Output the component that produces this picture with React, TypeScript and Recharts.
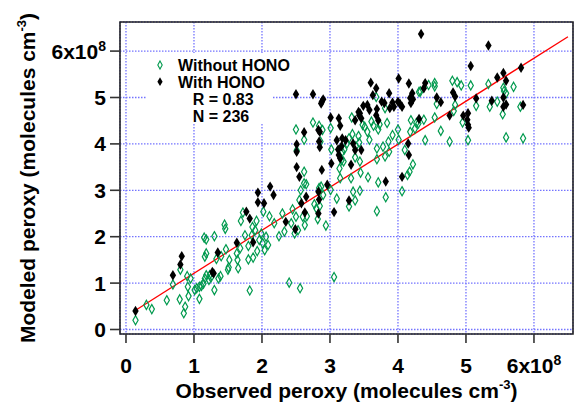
import { ScatterChart, Scatter, XAxis, YAxis, CartesianGrid, ReferenceLine, ReferenceArea, Legend } from 'recharts'

// axis ticks (units of 1e8 molecules cm^-3)
const xTicks = [0, 1, 2, 3, 4, 5, 6]
const yTicks = [0, 1, 2, 3, 4, 5, 6]
const X_DOMAIN = [-0.088, 6.574]
const Y_DOMAIN = [-0.097, 6.627]

const seriesNames = ['Without HONO', 'With HONO']
const stats = ['R = 0.83', 'N = 236']

// regression line end points
const fitLine = [
  [0.13, 0.405],
  [6.5, 6.31],
]

// green open diamonds
const withoutHono = [
  [0.14, 0.2], [0.3, 0.53], [0.38, 0.44], [0.6, 0.63], [0.69, 0.97], [0.8, 1.29], [0.79, 0.65], [0.85, 0.35],
  [0.87, 0.49], [0.9, 1.15], [0.91, 0.92], [0.95, 1.1], [0.92, 0.72], [1.01, 0.85], [1.04, 0.89], [1.08, 0.92],
  [1.11, 0.94], [1.14, 0.99], [1.16, 1.1], [1.08, 0.66], [1.18, 1.17], [1.16, 1.57], [1.18, 1.64], [1.15, 1.98],
  [1.18, 1.94], [1.22, 1.07], [1.23, 1.17], [1.25, 1.12], [1.3, 0.85], [1.3, 2.01], [1.33, 1.52], [1.36, 1.1],
  [1.39, 1.15], [1.4, 1.58], [1.45, 2.26], [1.46, 2.17], [1.47, 1.73], [1.5, 1.29], [1.51, 1.34], [1.52, 1.5],
  [1.63, 1.64], [1.64, 1.5], [1.65, 1.32], [1.68, 1.75], [1.69, 2.34], [1.72, 2.52], [1.75, 2.03], [1.8, 1.51],
  [1.82, 0.84], [1.8, 1.8], [1.85, 2.03], [1.86, 2.21], [1.87, 1.55], [1.9, 2.14], [1.92, 2.34], [1.93, 1.69],
  [1.96, 1.93], [1.99, 2.07], [2.01, 1.86], [2.02, 2.54], [2.04, 1.71], [2.06, 2.0], [2.09, 1.82], [2.11, 2.44],
  [2.18, 2.29], [2.25, 2.01], [2.3, 2.5], [2.33, 2.11], [2.4, 1.01], [2.43, 2.29], [2.45, 2.59], [2.48, 2.07],
  [2.5, 2.43], [2.53, 2.14], [2.55, 2.79], [2.56, 0.89], [2.57, 3.0], [2.6, 2.43], [2.63, 2.25], [2.65, 3.13],
  [2.66, 2.44], [2.77, 2.7], [2.8, 2.61], [2.85, 2.66], [2.82, 2.38], [2.9, 2.9],
  [2.75, 4.46], [2.5, 4.31], [2.62, 4.09], [2.51, 3.86], [2.62, 3.4], [2.62, 3.15], [2.84, 4.39], [2.89, 4.3],
  [2.86, 4.05], [3.01, 4.34], [3.02, 3.88], [3.01, 3.01], [2.87, 3.08], [2.84, 3.05], [2.94, 2.24], [3.1, 2.82],
  [3.14, 3.47], [3.15, 3.26], [3.17, 3.65], [3.18, 3.83], [3.2, 3.62], [3.21, 3.88], [3.25, 4.01], [3.28, 4.12],
  [3.32, 4.57], [3.33, 4.21], [3.31, 3.26], [3.28, 2.65], [3.34, 2.97], [3.37, 3.71], [3.38, 3.95], [3.42, 4.17],
  [3.43, 4.03], [3.44, 3.62], [3.45, 3.38], [3.44, 2.99], [3.48, 4.41], [3.51, 4.37], [3.55, 4.26], [3.58, 4.09],
  [3.56, 3.28], [3.61, 4.48], [3.64, 4.39], [3.68, 5.01], [3.69, 3.9], [3.69, 3.67], [3.69, 2.55], [3.71, 4.31],
  [3.71, 3.17], [3.73, 4.42], [3.78, 3.94], [3.81, 4.77], [3.81, 3.73], [3.82, 2.85], [3.84, 4.45], [3.86, 4.05],
  [3.87, 3.83], [3.92, 4.19], [4.0, 4.31], [4.01, 4.09], [4.06, 2.98], [4.1, 3.87], [4.14, 3.33], [4.17, 3.4],
  [4.22, 3.56], [4.18, 4.26], [4.25, 4.33], [4.3, 4.44], [4.19, 4.51], [4.31, 5.12], [3.37, 2.78], [3.06, 1.13],
  [4.33, 5.13], [4.45, 5.27], [4.54, 5.31], [4.54, 5.24], [4.8, 5.36], [4.87, 5.33], [4.93, 5.26], [5.07, 5.26],
  [5.33, 5.29], [4.57, 4.86], [4.84, 4.84], [4.82, 4.71], [5.15, 4.82], [4.54, 4.57], [4.38, 4.52], [4.27, 4.45],
  [4.63, 4.28], [4.4, 4.08], [4.76, 4.05], [5.03, 4.08], [4.95, 4.46], [5.35, 4.8], [5.46, 4.91], [5.55, 5.21],
  [5.59, 5.09], [5.56, 5.14], [5.7, 5.23], [5.54, 4.64], [5.59, 4.14], [5.8, 4.8], [5.84, 4.12],
]

// black filled diamonds
const withHono = [
  [0.14, 0.4], [0.69, 1.17], [0.82, 1.58], [0.8, 1.4], [1.29, 1.21], [1.27, 1.24], [1.35, 1.66], [1.63, 1.87],
  [1.87, 1.88], [1.82, 2.39], [1.77, 2.54], [1.94, 2.95], [1.94, 2.74], [2.03, 2.72], [2.12, 3.08], [2.17, 2.9],
  [2.35, 2.32], [2.49, 2.16], [2.58, 2.72], [2.63, 2.52], [2.65, 2.86],
  [2.5, 5.07], [2.75, 5.07], [2.88, 4.91], [2.9, 4.96], [2.87, 4.87], [2.51, 3.99], [2.51, 3.83], [2.62, 4.25],
  [2.51, 3.5], [2.55, 3.29], [2.83, 4.3], [2.85, 4.26], [2.84, 4.05], [2.85, 3.93], [2.88, 3.44], [2.83, 2.97],
  [2.84, 2.8], [2.83, 2.5], [2.96, 3.12], [3.01, 4.57], [3.02, 3.58], [3.06, 2.53], [3.1, 4.08], [3.13, 4.55],
  [3.15, 4.39], [3.12, 3.88], [3.13, 3.76], [3.15, 3.69], [3.17, 3.95], [3.18, 4.12], [3.23, 4.08], [3.28, 2.78],
  [3.31, 3.55], [3.34, 4.01], [3.37, 4.51], [3.37, 3.87], [3.42, 4.69], [3.43, 4.62], [3.44, 4.66], [3.46, 4.55],
  [3.46, 3.87], [3.49, 4.82], [3.55, 4.84], [3.58, 4.73], [3.6, 5.32], [3.63, 5.05], [3.68, 5.2], [3.69, 4.75],
  [3.68, 4.62], [3.71, 4.51], [3.76, 4.91], [3.8, 4.88], [3.82, 3.19], [3.87, 5.09], [3.88, 4.77], [3.92, 4.89],
  [3.94, 4.8], [4.01, 5.41], [4.0, 4.91], [4.03, 4.86], [4.06, 4.8], [4.16, 5.3], [4.18, 4.99], [4.22, 4.96],
  [4.21, 5.09], [4.16, 3.76], [4.15, 4.01], [4.06, 3.29],
  [4.34, 6.37], [5.33, 6.12], [5.07, 5.68], [4.4, 5.31], [4.38, 5.2], [4.19, 4.88], [4.57, 5.0], [4.63, 4.9],
  [4.81, 5.11], [4.84, 5.02], [4.76, 4.61], [4.96, 4.61], [5.03, 4.66], [5.02, 4.52], [5.03, 4.41], [5.04, 4.35],
  [5.15, 4.98], [4.31, 4.54], [5.46, 5.43], [5.55, 5.53], [5.59, 5.36], [5.81, 5.64], [5.38, 4.93], [5.55, 5.0],
  [5.55, 4.8], [5.59, 4.85], [5.84, 4.84],
]

const GREEN = '#009a4e'
const GRID = '#7474ff'
const FONT = '"Liberation Sans", Arial, Helvetica, sans-serif'

const toPoints = (rows: number[][]) => rows.map(([x, y]) => ({ x, y }))

const diamondPath = (cx: number, cy: number, w: number, h: number) =>
  `M${cx},${cy - h}L${cx + w},${cy}L${cx},${cy + h}L${cx - w},${cy}Z`

const OpenDiamond = (props: any) => (
  <path d={diamondPath(props.cx, props.cy, 2.6, 4.6)} fill="none" stroke={GREEN} strokeWidth={1.2} />
)

const FilledDiamond = (props: any) => (
  <path d={diamondPath(props.cx, props.cy, 3.2, 5.2)} fill="#000" stroke="none" />
)

const tickText = (v: number) =>
  v === 6 ? (
    <>
      6x10<tspan dy={-8} fontSize={14}>8</tspan>
    </>
  ) : (
    String(v)
  )

const XTick = ({ x, y, payload }: any) => (
  <text x={x} y={y + 28} textAnchor="middle" fontSize={21} fontWeight="bold" fontFamily={FONT} fill="#000">
    {tickText(payload.value)}
  </text>
)

const YTick = ({ x, y, payload }: any) => (
  <text x={x - 2} y={y + 7.5} textAnchor="end" fontSize={21} fontWeight="bold" fontFamily={FONT} fill="#000">
    {tickText(payload.value)}
  </text>
)

const XTitle = ({ viewBox }: any) => (
  <text
    x={viewBox.x + viewBox.width / 2}
    y={viewBox.y + 64}
    textAnchor="middle"
    fontSize={21}
    fontWeight="bold"
    fontFamily={FONT}
    fill="#000"
  >
    Observed peroxy (molecules cm<tspan dy={-9} fontSize={13}>-3</tspan>
    <tspan dy={9}>)</tspan>
  </text>
)

const YTitle = ({ viewBox }: any) => {
  const cx = 35
  const cy = viewBox.y + viewBox.height / 2
  return (
    <text
      x={cx}
      y={cy}
      transform={`rotate(-90, ${cx}, ${cy})`}
      textAnchor="middle"
      fontSize={21}
      fontWeight="bold"
      fontFamily={FONT}
      fill="#000"
    >
      Modeled peroxy (molecules cm<tspan dy={-9} fontSize={13}>-3</tspan>
      <tspan dy={9}>)</tspan>
    </text>
  )
}

const LegendBox = () => (
  <svg width={150} height={72} style={{ display: 'block', overflow: 'visible' }}>
    <rect x={0} y={0} width={125} height={70} fill="#fff" />
    <path d={diamondPath(13, 12, 2.2, 4)} fill="none" stroke={GREEN} strokeWidth={1.1} />
    <path d={diamondPath(13, 28.7, 2.6, 4.4)} fill="#000" />
    <g fontSize={16} fontWeight="bold" fontFamily={FONT} fill="#000">
      <text x={31} y={17.7}>{seriesNames[0]}</text>
      <text x={31} y={35.3}>{seriesNames[1]}</text>
      <text x={45.7} y={52}>{stats[0]}</text>
      <text x={45.7} y={68.7}>{stats[1]}</text>
    </g>
  </svg>
)

export default function App() {
  return (
    <div style={{ position: 'absolute', left: 0, top: 0, width: 574, height: 410, background: '#fff' }}>
      <ScatterChart width={574} height={410} margin={{ top: 22, right: 1, bottom: 0, left: 0 }}>
        <CartesianGrid stroke={GRID} strokeDasharray="1.5 1.5" strokeWidth={1.3} />
        <XAxis
          type="number"
          dataKey="x"
          domain={X_DOMAIN}
          ticks={xTicks}
          allowDataOverflow
          height={76}
          axisLine={false}
          tickSize={9}
          tickLine={{ stroke: '#333', strokeWidth: 1.6 }}
          tick={<XTick />}
          interval={0}
          label={XTitle}
        />
        <YAxis
          type="number"
          dataKey="y"
          domain={Y_DOMAIN}
          ticks={yTicks}
          allowDataOverflow
          width={120}
          axisLine={false}
          tickSize={10}
          tickLine={{ stroke: '#333', strokeWidth: 1.6 }}
          tick={<YTick />}
          interval={0}
          label={YTitle}
        />
        <ReferenceArea
          x1={X_DOMAIN[0]}
          x2={X_DOMAIN[1]}
          y1={Y_DOMAIN[0]}
          y2={Y_DOMAIN[1]}
          fill="none"
          stroke="#222"
          strokeWidth={1.6}
        />
        <Scatter name={seriesNames[0]} data={toPoints(withoutHono)} shape={OpenDiamond} isAnimationActive={false} />
        <Scatter name={seriesNames[1]} data={toPoints(withHono)} shape={FilledDiamond} isAnimationActive={false} />
        <ReferenceLine
          segment={fitLine.map(([x, y]) => ({ x, y }))}
          stroke="#ff0000"
          strokeWidth={1.3}
          ifOverflow="visible"
        />
        <Legend
          layout="horizontal"
          verticalAlign="middle"
          align="center"
          wrapperStyle={{ left: 147, top: 53, width: 150, height: 72 }}
          content={LegendBox}
        />
      </ScatterChart>
    </div>
  )
}
